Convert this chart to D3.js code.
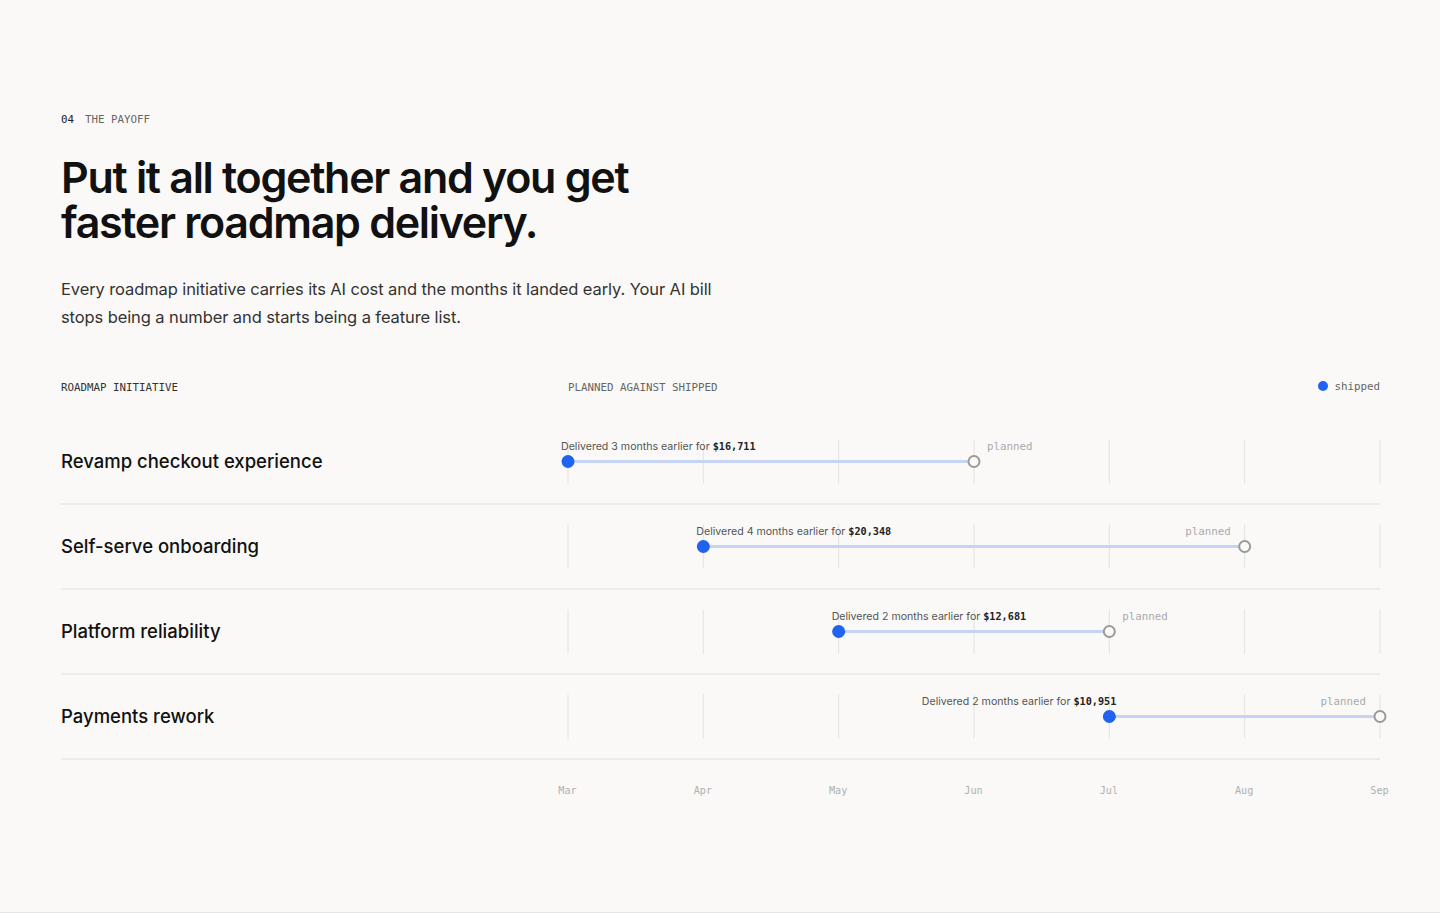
<!DOCTYPE html>
<html>
<head>
<meta charset="utf-8">
<script src="https://cdn.jsdelivr.net/npm/d3@7/dist/d3.min.js"></script>
<style>
  html, body { margin: 0; padding: 0; background: #faf9f7; }
  svg { display: block; }
</style>
</head>
<body>
<svg id="chart" width="1440" height="913"></svg>
<script>
// ---- data ----
const months = ["Mar", "Apr", "May", "Jun", "Jul", "Aug", "Sep"];
const initiatives = ["Revamp checkout experience", "Self-serve onboarding", "Platform reliability", "Payments rework"];
const shippedMonth = ["Mar", "Apr", "May", "Jul"];
const plannedMonth = ["Jun", "Aug", "Jul", "Sep"];
const monthsEarlier = [3, 4, 2, 2];
const aiCost = [16711, 20348, 12681, 10951];

const sans = "Inter, 'Noto Sans', sans-serif";
const mono = "'DejaVu Sans Mono', 'Liberation Mono', monospace";
const blue = "#1f63f0";

const svg = d3.select("#chart");
svg.append("rect").attr("width", 1440).attr("height", 913).attr("fill", "#faf9f7");

// eyebrow
const eb = svg.append("text").attr("x", 61).attr("y", 123).attr("font-family", mono).attr("font-size", 10.8);
eb.append("tspan").attr("fill", "#222").text("04");
eb.append("tspan").attr("fill", "#666").attr("dx", 11).text("THE PAYOFF");

// title
const titleLines = ["Put it all together and you get", "faster roadmap delivery."];
svg.append("g").selectAll("text").data(titleLines).join("text")
  .attr("x", 61).attr("y", (d, i) => 193 + i * 45)
  .attr("font-family", sans).attr("font-size", 43).attr("font-weight", 600)
  .attr("letter-spacing", "-1.3px").attr("fill", "#111").text(d => d);

// subtitle
const subLines = ["Every roadmap initiative carries its AI cost and the months it landed early. Your AI bill",
                  "stops being a number and starts being a feature list."];
svg.append("g").selectAll("text").data(subLines).join("text")
  .attr("x", 61).attr("y", (d, i) => 295 + i * 28)
  .attr("font-family", sans).attr("font-size", 16.5).attr("fill", "#333")
  .attr("letter-spacing", "-0.1px").text(d => d);

// header row
svg.append("text").attr("x", 61).attr("y", 391).attr("font-family", mono).attr("font-size", 10.8)
  .attr("fill", "#333").text("ROADMAP INITIATIVE");
svg.append("text").attr("x", 568).attr("y", 391).attr("font-family", mono).attr("font-size", 10.8)
  .attr("fill", "#666").text("PLANNED AGAINST SHIPPED");
svg.append("circle").attr("cx", 1323).attr("cy", 386).attr("r", 5).attr("fill", blue);
svg.append("text").attr("x", 1380).attr("y", 390).attr("text-anchor", "end").attr("font-family", mono)
  .attr("font-size", 10.8).attr("fill", "#666").text("shipped");

// scales
const x = d3.scalePoint().domain(months).range([568, 1380]);
const y = d3.scaleBand().domain(initiatives).range([419, 759]);
const rowMid = d => y(d) + y.bandwidth() / 2;

const rows = svg.append("g").selectAll("g").data(initiatives).join("g");

// gridlines inside each row
rows.each(function (name) {
  const g = d3.select(this);
  const cy = rowMid(name);
  g.selectAll("line.grid").data(months).join("line").attr("class", "grid")
    .attr("x1", m => x(m)).attr("x2", m => x(m))
    .attr("y1", cy - 22).attr("y2", cy + 22)
    .attr("stroke", "#e3e2df").attr("stroke-width", 1);
});

// separators
rows.append("line")
  .attr("x1", 61).attr("x2", 1380)
  .attr("y1", d => y(d) + y.bandwidth()).attr("y2", d => y(d) + y.bandwidth())
  .attr("stroke", "#e0dfdc").attr("stroke-width", 1);

// row labels
rows.append("text").attr("x", 61).attr("y", d => rowMid(d) + 6)
  .attr("font-family", sans).attr("font-size", 18.5).attr("font-weight", 500)
  .attr("fill", "#111").text(d => d);

// connecting line
rows.append("line")
  .attr("x1", (d, i) => x(shippedMonth[i])).attr("x2", (d, i) => x(plannedMonth[i]))
  .attr("y1", d => rowMid(d)).attr("y2", d => rowMid(d))
  .attr("stroke", "#c5d3f4").attr("stroke-width", 3);

// planned marker
rows.append("circle")
  .attr("cx", (d, i) => x(plannedMonth[i])).attr("cy", d => rowMid(d)).attr("r", 5.5)
  .attr("fill", "#faf9f7").attr("stroke", "#9a9a9a").attr("stroke-width", 2);

// shipped marker
rows.append("circle")
  .attr("cx", (d, i) => x(shippedMonth[i])).attr("cy", d => rowMid(d)).attr("r", 6.5)
  .attr("fill", blue);

// planned label
const xmax = x.range()[1], xmin = x.range()[0];
rows.append("text")
  .attr("x", (d, i) => {
    const px = x(plannedMonth[i]);
    return (px - xmin) / (xmax - xmin) > 0.75 ? px - 14 : px + 13;
  })
  .attr("text-anchor", (d, i) => (x(plannedMonth[i]) - xmin) / (xmax - xmin) > 0.75 ? "end" : "start")
  .attr("y", d => rowMid(d) - 12)
  .attr("font-family", mono).attr("font-size", 10.8).attr("fill", "#aaa")
  .text("planned");

// delivered label
const fmt = d3.format("$,");
const lab = rows.append("text")
  .attr("x", (d, i) => {
    const px = x(shippedMonth[i]);
    return (px - xmin) / (xmax - xmin) > 0.5 ? px + 7 : px - 7;
  })
  .attr("text-anchor", (d, i) => (x(shippedMonth[i]) - xmin) / (xmax - xmin) > 0.5 ? "end" : "start")
  .attr("y", d => rowMid(d) - 12)
  .attr("font-family", sans).attr("font-size", 10.6).attr("fill", "#555");
lab.append("tspan").text((d, i) => `Delivered ${monthsEarlier[i]} months earlier for `);
lab.append("tspan").attr("font-family", mono).attr("font-size", 10.2).attr("font-weight", 600).attr("fill", "#222")
  .text((d, i) => fmt(aiCost[i]));

// x axis
const axis = d3.axisBottom(x).tickSize(0).tickPadding(0);
const ag = svg.append("g").attr("transform", "translate(-1,787)").call(axis);
ag.select(".domain").remove();
ag.selectAll("text").attr("font-family", mono).attr("font-size", 10.2).attr("fill", "#b0b0b0").attr("dy", "0.71em");

// bottom border
svg.append("line").attr("x1", 0).attr("x2", 1440).attr("y1", 912.5).attr("y2", 912.5)
  .attr("stroke", "#e6e5e2");
</script>
</body>
</html>
